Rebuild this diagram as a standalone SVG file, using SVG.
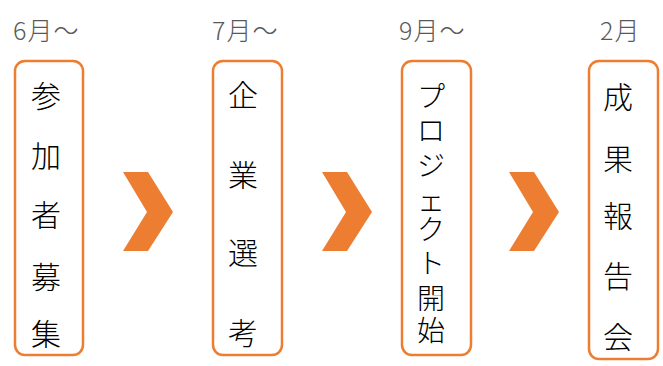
<svg xmlns="http://www.w3.org/2000/svg" width="663" height="366" viewBox="0 0 663 366">
<style>
.box{fill:#fff;stroke:#ED7D31;stroke-width:2.5}
.chev{fill:#ED7D31}
.lbl{font-family:"Noto Sans CJK JP","Noto Sans",sans-serif;font-size:25px;font-weight:300;fill:#595959;letter-spacing:1px}
.v{font-family:"Noto Sans CJK JP",sans-serif;font-size:30px;font-weight:300;fill:#000;text-anchor:middle;dominant-baseline:central}
.s{font-size:28px}
</style>
<rect width="663" height="366" fill="#fff"/>
<g id="connectors">
<path class="chev" d="M123,172 L148,172 L173,212 L148,251 L123,251 L147,212 Z"/>
<path class="chev" d="M322,172 L347,172 L372,212 L347,251 L322,251 L346,212 Z"/>
<path class="chev" d="M509,172 L534,172 L559,212 L534,251 L509,251 L533,212 Z"/>
</g>
<g id="node1">
<text class="lbl" x="13" y="40">6月～</text>
<rect class="box" x="15" y="61" width="68" height="294" rx="10"/>
<text class="v" x="46" y="94">参</text>
<text class="v" x="46" y="154">加</text>
<text class="v" x="46" y="213">者</text>
<text class="v" x="46" y="275">募</text>
<text class="v" x="46" y="332">集</text>
</g>
<g id="node2">
<text class="lbl" x="212" y="40">7月～</text>
<rect class="box" x="213" y="61" width="69" height="294" rx="10"/>
<text class="v" x="243" y="93">企</text>
<text class="v" x="243" y="173">業</text>
<text class="v" x="243" y="251">選</text>
<text class="v" x="243" y="331">考</text>
</g>
<g id="node3">
<text class="lbl" x="399" y="40">9月～</text>
<rect class="box" x="402" y="61" width="69" height="294" rx="10"/>
<text class="v s" x="431" y="95">プ</text>
<text class="v s" x="431" y="129">ロ</text>
<text class="v s" x="431" y="164">ジ</text>
<text class="v s" x="431" y="199">ェ</text>
<text class="v s" x="431" y="228">ク</text>
<text class="v s" x="431" y="262">ト</text>
<text class="v s" x="431" y="297">開</text>
<text class="v s" x="431" y="329">始</text>
</g>
<g id="node4">
<text class="lbl" x="600" y="40">2月</text>
<rect class="box" x="589" y="61" width="69" height="298" rx="10"/>
<text class="v" x="618" y="95">成</text>
<text class="v" x="618" y="157">果</text>
<text class="v" x="618" y="214">報</text>
<text class="v" x="618" y="274">告</text>
<text class="v" x="618" y="335">会</text>
</g>
</svg>
